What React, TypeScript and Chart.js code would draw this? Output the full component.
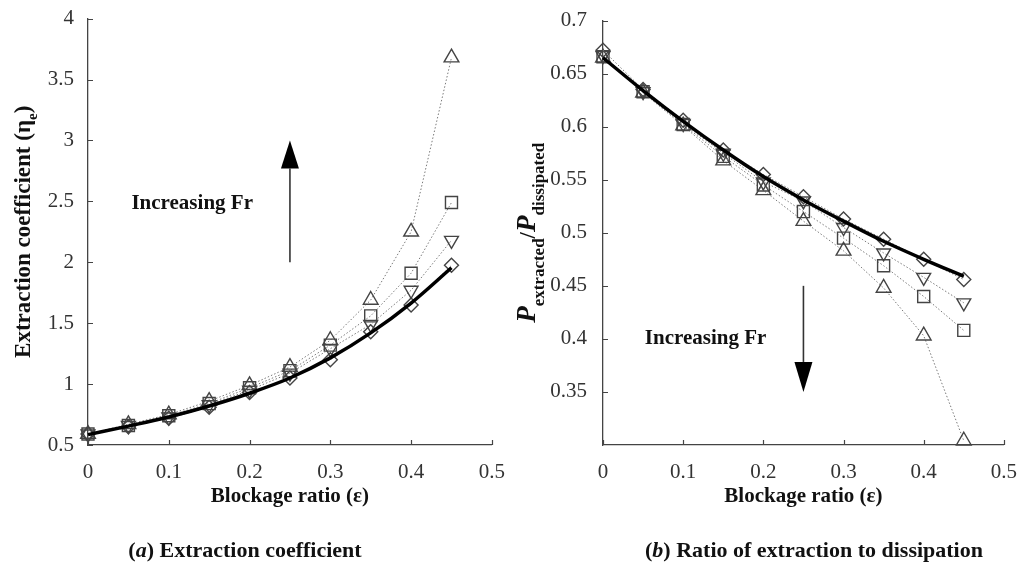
import React, { useEffect, useRef } from "react";
import { Chart, registerables } from "chart.js";

Chart.register(...registerables);

// ---------- data ----------
const blockage = [0, 0.05, 0.1, 0.15, 0.2, 0.25, 0.3, 0.35, 0.4, 0.45];
const xTickValues = [0, 0.1, 0.2, 0.3, 0.4, 0.5];

// (a) Extraction coefficient
const etaTickValues = [0.5, 1, 1.5, 2, 2.5, 3, 3.5, 4];
const etaTheory = [0.585, 0.655, 0.73, 0.82, 0.925, 1.05, 1.215, 1.42, 1.665, 1.955];
const etaDiamond = [0.59, 0.65, 0.72, 0.81, 0.93, 1.05, 1.2, 1.43, 1.65, 1.975];
const etaDown = [0.59, 0.66, 0.73, 0.83, 0.95, 1.09, 1.29, 1.49, 1.77, 2.18];
const etaSquare = [0.59, 0.66, 0.74, 0.84, 0.97, 1.11, 1.32, 1.56, 1.91, 2.49];
const etaUp = [0.59, 0.67, 0.75, 0.86, 0.99, 1.14, 1.36, 1.69, 2.25, 3.68];

// (b) Ratio of extraction to dissipation
const ratioTickValues = [0.35, 0.4, 0.45, 0.5, 0.55, 0.6, 0.65, 0.7];
const ratioTheory = [0.665, 0.634, 0.605, 0.578, 0.553, 0.531, 0.511, 0.492, 0.475, 0.459];
const ratioDiamond = [0.672, 0.635, 0.606, 0.578, 0.555, 0.534, 0.513, 0.494, 0.475, 0.456];
const ratioDown = [0.667, 0.633, 0.603, 0.575, 0.548, 0.53, 0.505, 0.481, 0.458, 0.434];
const ratioSquare = [0.666, 0.633, 0.602, 0.572, 0.545, 0.52, 0.495, 0.469, 0.44, 0.408];
const ratioUp = [0.665, 0.632, 0.601, 0.568, 0.54, 0.511, 0.483, 0.448, 0.403, 0.304];

// ---------- styling ----------
const SERIF = "'Liberation Serif', 'Times New Roman', serif";
const AXIS_COLOR = "#444";
const MARK_COLOR = "#444";

type Part = { t: string; f: string; dy?: number };

function drawRich(ctx: CanvasRenderingContext2D, parts: Part[], x: number, y: number, rotate: boolean) {
  ctx.save();
  ctx.translate(x, y);
  if (rotate) ctx.rotate(-Math.PI / 2);
  let w = 0;
  for (const p of parts) {
    ctx.font = p.f;
    w += ctx.measureText(p.t).width;
  }
  let cx = -w / 2;
  ctx.textAlign = "left";
  ctx.textBaseline = "alphabetic";
  ctx.fillStyle = "#111";
  for (const p of parts) {
    ctx.font = p.f;
    ctx.fillText(p.t, cx, p.dy || 0);
    cx += ctx.measureText(p.t).width;
  }
  ctx.restore();
}

type Deco = {
  xTitle: Part[];
  yTitle: Part[];
  yTitleX: number;
  caption: Part[];
  captionX: number;
  note: { x: number; y: number };
  arrow: { x: number; from: number; to: number; head: number };
};

const decoPlugin = {
  id: "deco",
  afterDraw(chart: any) {
    const deco: Deco = chart.options.plugins.deco;
    if (!deco) return;
    const ctx: CanvasRenderingContext2D = chart.ctx;
    const { left, right, top, bottom } = chart.chartArea;
    const xs = chart.scales.x;
    const ys = chart.scales.y;

    // inward tick marks
    ctx.save();
    ctx.strokeStyle = AXIS_COLOR;
    ctx.lineWidth = 1.2;
    ctx.beginPath();
    for (const t of xs.ticks) {
      const px = Math.round(xs.getPixelForValue(t.value)) + 0.5;
      ctx.moveTo(px, bottom);
      ctx.lineTo(px, bottom - 5);
    }
    for (const t of ys.ticks) {
      const py = Math.round(ys.getPixelForValue(t.value)) + 0.5;
      ctx.moveTo(left, py);
      ctx.lineTo(left + 5, py);
    }
    ctx.stroke();
    ctx.restore();

    // axis titles and caption
    drawRich(ctx, deco.xTitle, (left + right) / 2, 502, false);
    drawRich(ctx, deco.yTitle, deco.yTitleX, (top + bottom) / 2, true);
    drawRich(ctx, deco.caption, deco.captionX, 557, false);

    // annotation text
    ctx.save();
    ctx.font = `bold 21px ${SERIF}`;
    ctx.fillStyle = "#111";
    ctx.textAlign = "center";
    ctx.textBaseline = "middle";
    ctx.fillText("Increasing Fr", xs.getPixelForValue(deco.note.x), ys.getPixelForValue(deco.note.y));
    ctx.restore();

    // arrow
    const ax = xs.getPixelForValue(deco.arrow.x);
    const y0 = ys.getPixelForValue(deco.arrow.from);
    const y1 = ys.getPixelForValue(deco.arrow.to);
    const dir = y1 < y0 ? 1 : -1; // 1 => pointing up
    const headBase = y1 + dir * deco.arrow.head;
    ctx.save();
    ctx.strokeStyle = "#333";
    ctx.lineWidth = 1.6;
    ctx.beginPath();
    ctx.moveTo(ax, y0);
    ctx.lineTo(ax, headBase);
    ctx.stroke();
    ctx.fillStyle = "#000";
    ctx.beginPath();
    ctx.moveTo(ax, y1);
    ctx.lineTo(ax - 9, headBase);
    ctx.lineTo(ax + 9, headBase);
    ctx.closePath();
    ctx.fill();
    ctx.restore();
  },
};

function fmt(v: number) {
  return String(Number(v.toFixed(2)));
}

function buildConfig(opts: {
  theory: number[];
  diamond: number[];
  down: number[];
  square: number[];
  up: number[];
  yTicks: number[];
  yMin: number;
  yMax: number;
  leftWidth: number;
  rightPad: number;
  yPad: number;
  deco: Deco;
}): any {
  const dotted = (data: number[], style: string, radius: number, rotation = 0) => ({
    data: blockage.map((x, i) => ({ x, y: data[i] })),
    borderColor: "#7a7a7a",
    borderWidth: 1,
    borderDash: [1.5, 2],
    pointStyle: style,
    pointRotation: rotation,
    pointRadius: radius,
    pointBorderColor: MARK_COLOR,
    pointBorderWidth: 1.4,
    pointBackgroundColor: "rgba(255,255,255,0)",
    tension: 0,
    clip: false,
  });
  return {
    type: "line",
    data: {
      datasets: [
        {
          data: blockage.map((x, i) => ({ x, y: opts.theory[i] })),
          borderColor: "#000",
          borderWidth: 3.5,
          pointRadius: 0,
          cubicInterpolationMode: "monotone",
          clip: false,
        },
        dotted(opts.diamond, "rectRot", 7),
        dotted(opts.down, "triangle", 8, 180),
        dotted(opts.square, "rect", 8.5),
        dotted(opts.up, "triangle", 8.5),
      ],
    },
    options: {
      animation: false,
      responsive: false,
      events: [],
      layout: { padding: { left: 0, right: opts.rightPad, top: 18, bottom: 0 } },
      plugins: { legend: { display: false }, tooltip: { enabled: false }, deco: opts.deco },
      scales: {
        x: {
          type: "linear",
          min: 0,
          max: 0.5,
          afterBuildTicks: (s: any) => {
            s.ticks = xTickValues.map((v) => ({ value: v }));
          },
          ticks: {
            font: { family: SERIF, size: 21 },
            color: "#333",
            padding: 7,
            maxRotation: 0,
            autoSkip: false,
            callback: (v: any) => fmt(Number(v)),
          },
          grid: { display: false },
          border: { display: true, color: AXIS_COLOR, width: 1.3 },
          afterFit: (s: any) => {
            s.height = 564 - 445;
          },
        },
        y: {
          type: "linear",
          min: opts.yMin,
          max: opts.yMax,
          afterBuildTicks: (s: any) => {
            s.ticks = opts.yTicks.map((v) => ({ value: v }));
          },
          ticks: {
            font: { family: SERIF, size: 21 },
            color: "#333",
            padding: opts.yPad,
            autoSkip: false,
            callback: (v: any) => fmt(Number(v)),
          },
          grid: { display: false },
          border: { display: true, color: AXIS_COLOR, width: 1.3 },
          afterFit: (s: any) => {
            s.width = opts.leftWidth;
          },
        },
      },
    },
    plugins: [decoPlugin],
  };
}

const BOLD_X = `bold 21px ${SERIF}`;
const BOLD_Y = `bold 23px ${SERIF}`;
const BOLD_CAP = `bold 22px ${SERIF}`;

function Panel({ config, left }: { config: any; left: number }) {
  const ref = useRef<HTMLCanvasElement>(null);
  useEffect(() => {
    if (!ref.current) return;
    const chart = new Chart(ref.current, config);
    return () => chart.destroy();
  }, []);
  return (
    <canvas
      ref={ref}
      width={512}
      height={564}
      style={{ position: "absolute", left, top: 0, width: 512, height: 564 }}
    />
  );
}

export default function App() {
  const configA = buildConfig({
    theory: etaTheory,
    diamond: etaDiamond,
    down: etaDown,
    square: etaSquare,
    up: etaUp,
    yTicks: etaTickValues,
    yMin: 0.5,
    yMax: 4,
    leftWidth: 88,
    rightPad: 19,
    yPad: 6,
    deco: {
      xTitle: [{ t: "Blockage ratio (ε)", f: BOLD_X }],
      yTitle: [
        { t: "Extraction coefficient (η", f: BOLD_Y },
        { t: "e", f: `bold 15px ${SERIF}`, dy: 7 },
        { t: ")", f: BOLD_Y },
      ],
      yTitleX: 30,
      caption: [
        { t: "(", f: BOLD_CAP },
        { t: "a", f: `italic bold 22px ${SERIF}` },
        { t: ") Extraction coefficient", f: BOLD_CAP },
      ],
      captionX: 245,
      note: { x: 0.129, y: 2.48 },
      arrow: { x: 0.25, from: 2.0, to: 3.0, head: 28 },
    },
  });
  const configB = buildConfig({
    theory: ratioTheory,
    diamond: ratioDiamond,
    down: ratioDown,
    square: ratioSquare,
    up: ratioUp,
    yTicks: ratioTickValues,
    yMin: 0.3,
    yMax: 0.7,
    leftWidth: 91,
    rightPad: 16,
    yPad: 8,
    deco: {
      xTitle: [{ t: "Blockage ratio (ε)", f: BOLD_X }],
      yTitle: [
        { t: "P", f: `italic bold 27px ${SERIF}` },
        { t: "extracted", f: `bold 17px ${SERIF}`, dy: 9 },
        { t: "/", f: `bold 23px ${SERIF}` },
        { t: "P", f: `italic bold 27px ${SERIF}` },
        { t: "dissipated", f: `bold 17px ${SERIF}`, dy: 9 },
      ],
      yTitleX: 23,
      caption: [
        { t: "(", f: BOLD_CAP },
        { t: "b", f: `italic bold 22px ${SERIF}` },
        { t: ") Ratio of extraction to dissipation", f: BOLD_CAP },
      ],
      captionX: 302,
      note: { x: 0.128, y: 0.4 },
      arrow: { x: 0.25, from: 0.45, to: 0.35, head: 30 },
    },
  });
  return (
    <div style={{ position: "fixed", left: 0, top: 0, width: 1024, height: 564, background: "#fff" }}>
      <Panel config={configA} left={0} />
      <Panel config={configB} left={512} />
    </div>
  );
}
